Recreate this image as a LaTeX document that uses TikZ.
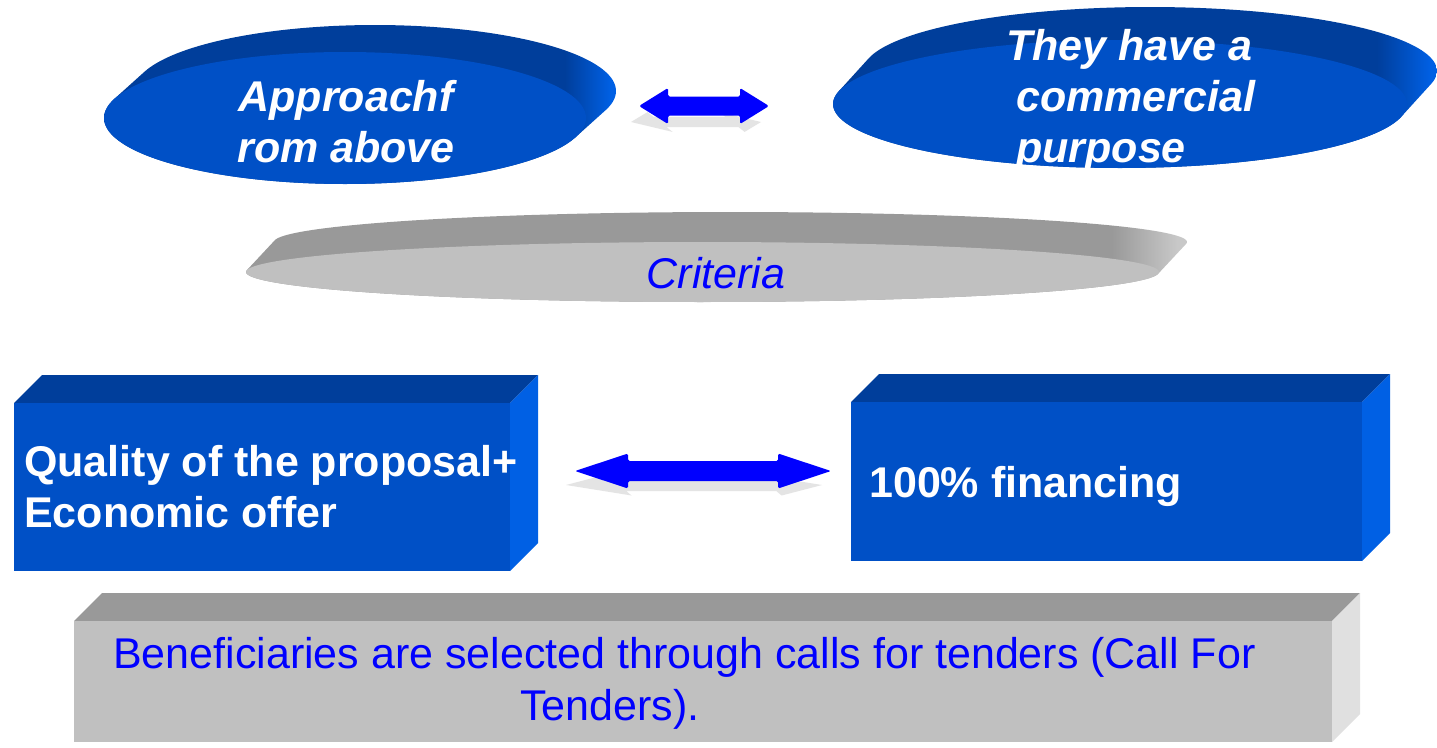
\documentclass[tikz,border=0pt]{standalone}
\usepackage{fontspec}
\setmainfont{Liberation Sans}
\usetikzlibrary{calc}
\definecolor{bfront}{RGB}{0,80,198}
\definecolor{btop}{RGB}{0,62,155}
\definecolor{bside}{RGB}{0,96,228}
\definecolor{gfront}{RGB}{192,192,192}
\definecolor{gtop}{RGB}{153,153,153}
\definecolor{gside}{RGB}{224,224,224}
\definecolor{gdiscside}{RGB}{200,200,200}
\definecolor{txtblue}{RGB}{0,0,255}
\definecolor{shadowgray}{RGB}{228,228,228}
\pgfdeclarehorizontalshading{bluerim}{100bp}{color(0bp)=(btop); color(70bp)=(btop); color(74.5bp)=(bside); color(100bp)=(bside)}
\pgfdeclarehorizontalshading{grayrim}{100bp}{color(0bp)=(gtop); color(71bp)=(gtop); color(74.5bp)=(gdiscside); color(100bp)=(gdiscside)}
\tikzset{
  ovaltext/.style={text=white, font=\fontsize{43pt}{51pt}\selectfont\bfseries\itshape, inner sep=0pt},
  boxtext/.style={text=white, font=\fontsize{43pt}{51pt}\selectfont\bfseries, inner sep=0pt, align=left},
  bluetext/.style={text=txtblue, font=\fontsize{43pt}{52pt}\selectfont, inner sep=0pt},
  arrowfill/.style={fill=txtblue, rounded corners=1.5pt},
  shadowfill/.style={fill=shadowgray},
}
% disc: cx cy rx ry dx dy front rimshading
\newcommand\disc[8]{%
  \pgfmathsetmacro\tz{atan(-(#4)*(#5)/((#3)*(#6)))}%
  \pgfmathsetmacro\ta{\tz+180}%
  \pgfmathsetmacro\tb{\tz+360}%
  \path[shading=#8] plot[domain=\ta:\tb, samples=90, variable=\u] ({#1+#5+#3*cos(\u)},{#2+#6+#4*sin(\u)})
     -- plot[domain=\tz:\ta, samples=90, variable=\u] ({#1+#3*cos(\u)},{#2+#4*sin(\u)}) -- cycle;
  \fill[#7] (#1,#2) ellipse [x radius=#3pt, y radius=#4pt];
}
% prism: x1 y1 x2 y2 front top side
\newcommand\prism[7]{%
  \fill[#6] (#1,#2) -- (#1+28,#2-28) -- (#3+28,#2-28) -- (#3,#2) -- cycle;
  \fill[#7] (#3,#2) -- (#3+28,#2-28) -- (#3+28,#4-28) -- (#3,#4) -- cycle;
  \fill[#5] (#1,#2) rectangle (#3,#4);
}
% arrow polygon relative to centre: halflength L h H
\newcommand\arrowpoly[4]{%
  (-#1,0) -- (-#1+#2,-#4) -- (-#1+#2,-#3) -- (#1-#2,-#3) -- (#1-#2,-#4) -- (#1,0)
  -- (#1-#2,#4) -- (#1-#2,#3) -- (-#1+#2,#3) -- (-#1+#2,#4) -- cycle}
% block arrow between two named coordinates: left right L h H
\newcommand\dblarrow[5]{%
  \fill[arrowfill] (#1) -- ($(#1)+(#3,-#5)$) -- ($(#1)+(#3,-#4)$) -- ($(#2)+(-#3,-#4)$)
  -- ($(#2)+(-#3,-#5)$) -- (#2) -- ($(#2)+(-#3,#5)$) -- ($(#2)+(-#3,#4)$)
  -- ($(#1)+(#3,#4)$) -- ($(#1)+(#3,#5)$) -- cycle;
}
\begin{document}
\begin{tikzpicture}[x=1pt, y=-1pt]
\useasboundingbox (0,0) rectangle (1437,747);
\fill[white] (0,0) rectangle (1437,747);

% top discs
\disc{345}{118}{241}{66}{30}{-27}{bfront}{bluerim}
\disc{1120}{104}{287}{64}{30}{-33}{bfront}{bluerim}
\node[ovaltext, align=center] (approach) at (346,121.5) {Approachf\\rom above};
\node[ovaltext, align=left, anchor=west] (commercial) at (1006,100.5)
  {They have a\\\hspace*{10pt}commercial\\\hspace*{10pt}purpose};

% top arrow
\coordinate (tal) at (639,106);
\coordinate (tar) at (769,106);
\begin{scope}[shift={(696,122)}, yscale=0.55, xslant=-0.7]
  \fill[shadowfill] \arrowpoly{65}{29}{9.5}{18};
\end{scope}
\dblarrow{tal}{tar}{29}{9.5}{18}

% criteria disc
\disc{702.5}{272}{456.5}{30}{28}{-30}{gfront}{grayrim}
\node[bluetext, font=\fontsize{43pt}{52pt}\selectfont\itshape, anchor=base] (criteria) at (716,288) {Criteria};

% boxes
\prism{14}{403}{510}{571}{bfront}{btop}{bside}
\prism{851}{402}{1362}{561}{bfront}{btop}{bside}
\node[boxtext, anchor=west] (quality) at (24,486.5) {Quality of the proposal+\\Economic offer};
\node[boxtext, anchor=base west] (financing) at (869,497) {100\% financing};

% bottom arrow
\coordinate (bal) at (575,471);
\coordinate (bar) at (831,471);
\begin{scope}[shift={(694,485)}, yscale=0.6, xslant=-0.72]
  \fill[shadowfill] \arrowpoly{128}{53}{10}{17.5};
\end{scope}
\dblarrow{bal}{bar}{53}{10}{17.5}

% bottom gray box
\prism{74}{621}{1332}{742}{gfront}{gtop}{gside}
\node[bluetext, align=left, anchor=base west] (tenders) at (113,720)
  {Beneficiaries are selected through calls for tenders (Call For\\\hspace*{407pt}Tenders).};
\end{tikzpicture}
\end{document}
